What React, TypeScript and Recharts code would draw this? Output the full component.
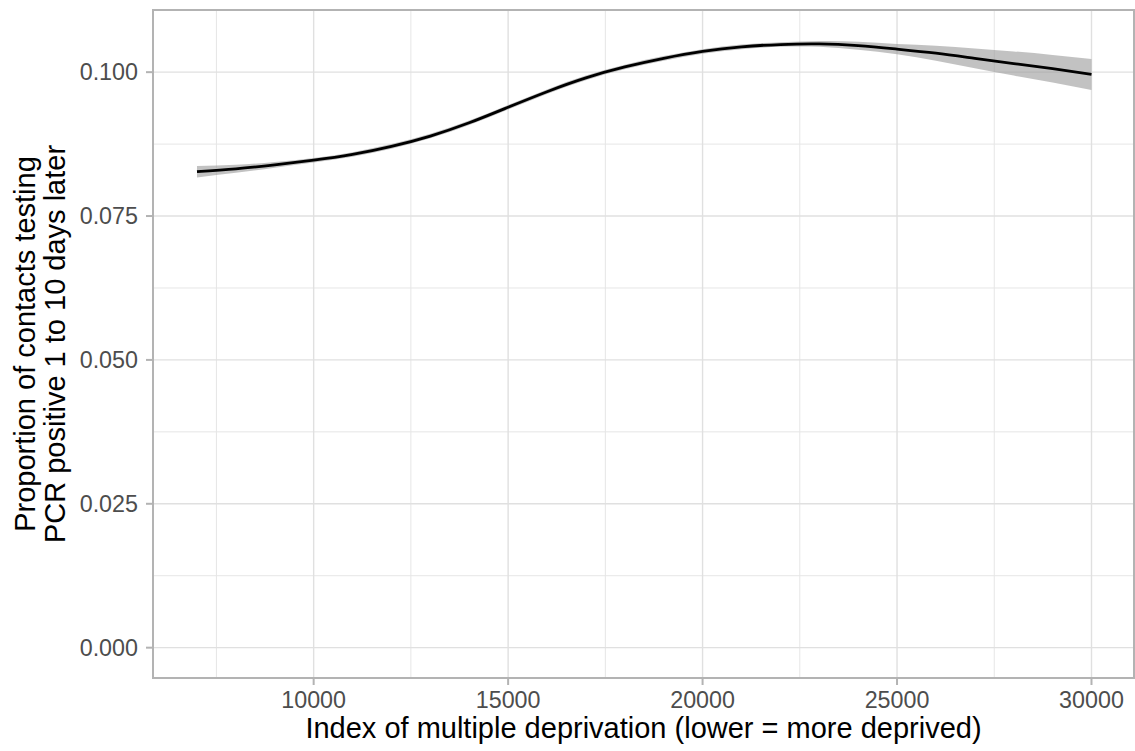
import React from "react";
import {
  ComposedChart,
  Line,
  Area,
  XAxis,
  YAxis,
  CartesianGrid,
  ReferenceArea,
} from "recharts";

const imdValues = [
  7000, 8000, 9000, 10000, 11000, 12000, 13000, 14000, 15000, 16000, 17000, 18000,
  19000, 20000, 21000, 22000, 23000, 24000, 25000, 26000, 27000, 28000, 29000, 30000,
];
const fitValues = [
  0.0827, 0.0832, 0.0839, 0.0847, 0.0857, 0.0871, 0.0889, 0.0912, 0.0939, 0.0966, 0.099, 0.1009,
  0.1024, 0.1036, 0.1044, 0.1048, 0.1049, 0.1046, 0.104, 0.1033, 0.1024, 0.1015, 0.1006, 0.0996,
];
const lowerValues = [
  0.0817, 0.0825, 0.0834, 0.0843, 0.0853, 0.0867, 0.0885, 0.0908, 0.0935, 0.0962, 0.0986, 0.1005,
  0.102, 0.1032, 0.104, 0.1044, 0.1044, 0.1039, 0.1031, 0.102, 0.1007, 0.0994, 0.0982, 0.0969,
];
const upperValues = [
  0.0837, 0.0839, 0.0844, 0.0851, 0.0861, 0.0875, 0.0893, 0.0916, 0.0943, 0.097, 0.0994, 0.1013,
  0.1028, 0.104, 0.1048, 0.1052, 0.1054, 0.1053, 0.1049, 0.1046, 0.1041, 0.1036, 0.103, 0.1023,
];

const xTicks = [10000, 15000, 20000, 25000, 30000];
const xMinor = [7500, 12500, 17500, 22500, 27500];
const yTicks = [0, 0.025, 0.05, 0.075, 0.1];
const yMinor = [0.0125, 0.0375, 0.0625, 0.0875];
const xDomain: [number, number] = [5869, 31093];
const yDomain: [number, number] = [-0.00527, 0.1108];

const xTitle = "Index of multiple deprivation (lower = more deprived)";
const yTitleLines = ["Proportion of contacts testing", "PCR positive 1 to 10 days later"];

const data = imdValues.map((x, i) => ({
  x,
  fit: fitValues[i],
  band: [lowerValues[i], upperValues[i]],
}));

const FONT = "'Liberation Sans', Arial, Helvetica, sans-serif";

const YTitle = (props: any) => {
  const vb = props.viewBox || {};
  const cy = vb.y + vb.height / 2;
  return (
    <g transform={`translate(35, ${cy}) rotate(-90)`}>
      <text textAnchor="middle" fontFamily={FONT} fontSize={29} fill="#000">
        <tspan x={0} y={0}>{yTitleLines[0]}</tspan>
        <tspan x={0} y={30}>{yTitleLines[1]}</tspan>
      </text>
    </g>
  );
};

const XTitle = (props: any) => {
  const vb = props.viewBox || {};
  const cx = vb.x + vb.width / 2;
  return (
    <text x={cx} y={vb.y + 60} textAnchor="middle" fontFamily={FONT} fontSize={29} fill="#000">
      {xTitle}
    </text>
  );
};

export default function App() {
  return (
    <div
      style={{
        position: "absolute",
        left: 0,
        top: 0,
        width: 1135,
        height: 751,
        overflow: "hidden",
        background: "#fff",
      }}
    >
      <ComposedChart
        width={1135}
        height={751}
        data={data}
        margin={{ top: 10, right: 1, left: 0, bottom: 0 }}
      >
        <CartesianGrid
          horizontalValues={yMinor}
          verticalValues={xMinor}
          stroke="#e6e6e6"
          strokeWidth={1}
        />
        <CartesianGrid
          horizontalValues={yTicks}
          verticalValues={xTicks}
          stroke="#e0e0e0"
          strokeWidth={1.4}
        />
        <XAxis
          dataKey="x"
          type="number"
          domain={xDomain}
          allowDataOverflow
          ticks={xTicks}
          height={73}
          tickSize={7}
          tickMargin={6}
          axisLine={false}
          tickLine={{ stroke: "#b3b3b3", strokeWidth: 2 }}
          tick={{ fill: "#4d4d4d", fontSize: 23.3, fontFamily: FONT }}
          label={<XTitle />}
        />
        <YAxis
          type="number"
          domain={yDomain}
          allowDataOverflow
          ticks={yTicks}
          width={153}
          tickSize={7}
          tickMargin={8}
          axisLine={false}
          tickLine={{ stroke: "#b3b3b3", strokeWidth: 2 }}
          tickFormatter={(v: number) => v.toFixed(3)}
          tick={{ fill: "#4d4d4d", fontSize: 23.3, fontFamily: FONT }}
          label={<YTitle />}
        />
        <Area
          dataKey="band"
          type="natural"
          stroke="none"
          fill="#999999"
          fillOpacity={0.6}
          isAnimationActive={false}
          activeDot={false}
        />
        <Line
          dataKey="fit"
          type="natural"
          stroke="#000"
          strokeWidth={2.8}
          dot={false}
          activeDot={false}
          isAnimationActive={false}
        />
        <ReferenceArea
          x1={xDomain[0]}
          x2={xDomain[1]}
          y1={yDomain[0]}
          y2={yDomain[1]}
          fill="none"
          fillOpacity={0}
          stroke="#b3b3b3"
          strokeWidth={2}
          ifOverflow="visible"
        />
      </ComposedChart>
    </div>
  );
}
